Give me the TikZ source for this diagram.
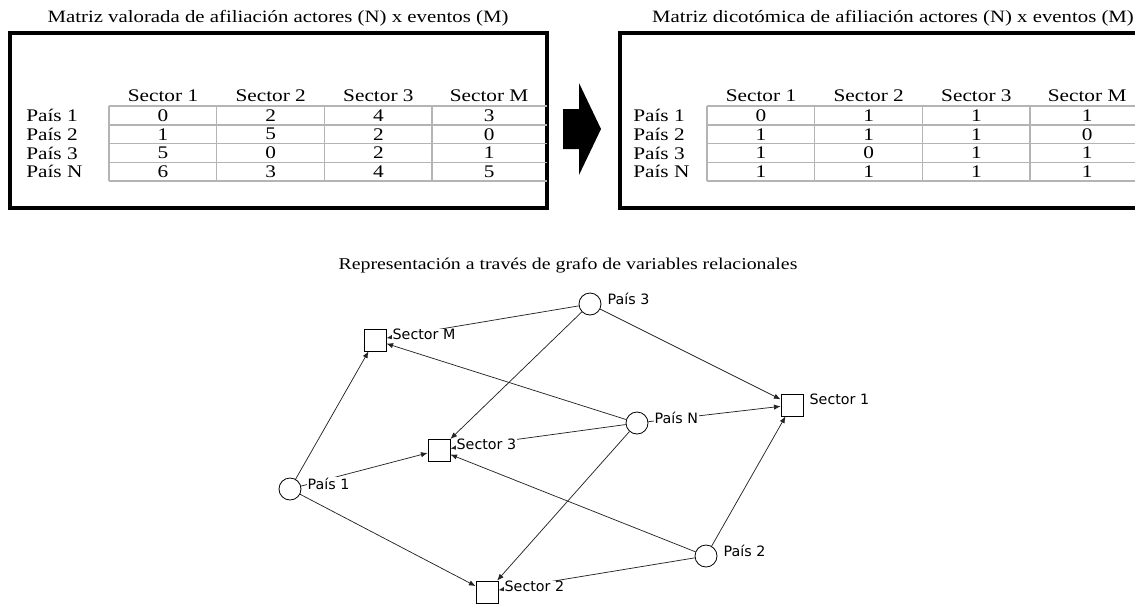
\documentclass[tikz,border=0pt]{standalone}
\usepackage{fontspec}
\setmainfont{Liberation Serif}[FakeStretch = 1.2]
\newfontfamily\graphFont{DejaVu Sans}
\usetikzlibrary{arrows.meta}
\tikzstyle{pixels} = [x = 0.75pt, y = -0.75pt]
\definecolor{gridColor}{RGB}{180,180,180}
\definecolor{tieColor}{RGB}{35,35,35}
\tikzstyle{frameStyle} = [line width = 2.3pt]
\tikzstyle{gridLine} = [color=gridColor, line width = 1.1pt]
\tikzstyle{matrixText} = [font=\fontsize{13.3}{16}\selectfont, inner sep = 0pt]
\tikzstyle{titleText} = [font=\fontsize{13}{16}\selectfont, inner sep = 0pt]
\tikzstyle{actorStyle} = [circle, draw, fill=white, minimum size = 16.5pt, inner sep = 0pt, line width = .6pt]
\tikzstyle{eventStyle} = [rectangle, draw, fill=white, minimum size = 16.5pt, inner sep = 0pt, line width = .6pt]
\tikzstyle{nodeLabel} = [font=\graphFont\fontsize{10.7}{12}\selectfont, fill=white, inner sep = .5pt, anchor = west]
\tikzstyle{tie} = [draw=tieColor, line width = .55pt, -{Latex[length = 5pt, width = 4pt]}]
\newcommand{\colWidth}{107.7}
\newcommand{\rowHeight}{18.8}
\newcommand{\gridTop}{106}
\newcommand{\matrixGrid}[2]{
  \foreach \colLine in {0,...,3} {
    \draw [gridLine] (#1 + \colWidth * \colLine, \gridTop) -- + (0, 4 * \rowHeight);
  }
  \foreach \rowLine in {0,...,4} {
    \draw [gridLine] (#1, \gridTop + \rowHeight * \rowLine) -- (#2, \gridTop + \rowHeight * \rowLine);
  }
}
\newcommand{\matrixCells}[4]{
  \foreach \sector [count = \c] in {Sector 1, Sector 2, Sector 3, Sector M} {
    \pgfmathsetmacro{\colCenter}{#2 + \colWidth * (\c - 1) + (\c == 4 ? 57 : 54)}
    \node [matrixText] (#1-head-\c) at (\colCenter, 96) {\sector};
  }
  \foreach \country [count = \r] in {País 1, País 2, País 3, País N} {
    \node [matrixText, anchor = west] (#1-row-\r) at (#3, \gridTop + \rowHeight * \r - \rowHeight / 2) {\country};
  }
  \foreach \values [count = \r] in {#4} {
    \foreach \v [count = \c] in \values {
      \pgfmathsetmacro{\colCenter}{#2 + \colWidth * (\c - 1) + (\c == 4 ? 57 : 54)}
      \node [matrixText] (#1-\r-\c) at (\colCenter, \gridTop + \rowHeight * \r - \rowHeight / 2) {\v};
    }
  }
}

\begin{document}
\begin{tikzpicture}[pixels]
  \useasboundingbox (0,0) rectangle (1135,604);
  % valued matrix
  \node [titleText] (valuedTitle) at (278,18) {Matriz valorada de afiliación actores (N) x eventos (M)};
  \draw [frameStyle] (10,33) rectangle (547,208);
  \matrixGrid{109}{547}
  \matrixCells{valued}{109}{26}{{0,2,4,3},{1,5,2,0},{5,0,2,1},{6,3,4,5}}
  % block arrow
  \fill (563,109) -- (579,109) -- (579,83) -- (601,129) -- (579,175) -- (579,149) -- (563,149) -- cycle;
  % dichotomous matrix
  \node [titleText] (dichoTitle) at (893,18) {Matriz dicotómica de afiliación actores (N) x eventos (M)};
  \draw [frameStyle] (1145,33) -- (620,33) -- (620,208) -- (1145,208);
  \matrixGrid{707}{1145}
  \matrixCells{dicho}{707}{633}{{0,1,1,1},{1,1,1,0},{1,0,1,1},{1,1,1,1}}
  % graph
  \node [titleText, font=\fontsize{12.4}{15}\selectfont] (graphTitle) at (568,265) {Representación a través de grafo de variables relacionales};
  \node [actorStyle] (pais1) at (290,489) {};
  \node [actorStyle] (pais2) at (706,556) {};
  \node [actorStyle] (pais3) at (590,304) {};
  \node [actorStyle] (paisN) at (637,423) {};
  \node [eventStyle] (sector1) at (792,405) {};
  \node [eventStyle] (sector2) at (487,592) {};
  \node [eventStyle] (sector3) at (439,450) {};
  \node [eventStyle] (sectorM) at (375,340) {};
  \foreach \from/\to in {pais1/sectorM, pais1/sector3, pais1/sector2,
                         pais2/sector1, pais2/sector2, pais2/sector3,
                         pais3/sectorM, pais3/sector3, pais3/sector1,
                         paisN/sectorM, paisN/sector3, paisN/sector1, paisN/sector2} {
    \draw [tie] (\from) -- (\to);
  }
  \foreach \name/\text in {pais1/País 1, pais2/País 2, pais3/País 3, paisN/País N,
                           sector1/Sector 1, sector2/Sector 2, sector3/Sector 3, sectorM/Sector M} {
    \node [nodeLabel] (\name-label) at ([xshift = 4pt, yshift = 4pt]\name.east) {\text};
  }
\end{tikzpicture}
\end{document}
